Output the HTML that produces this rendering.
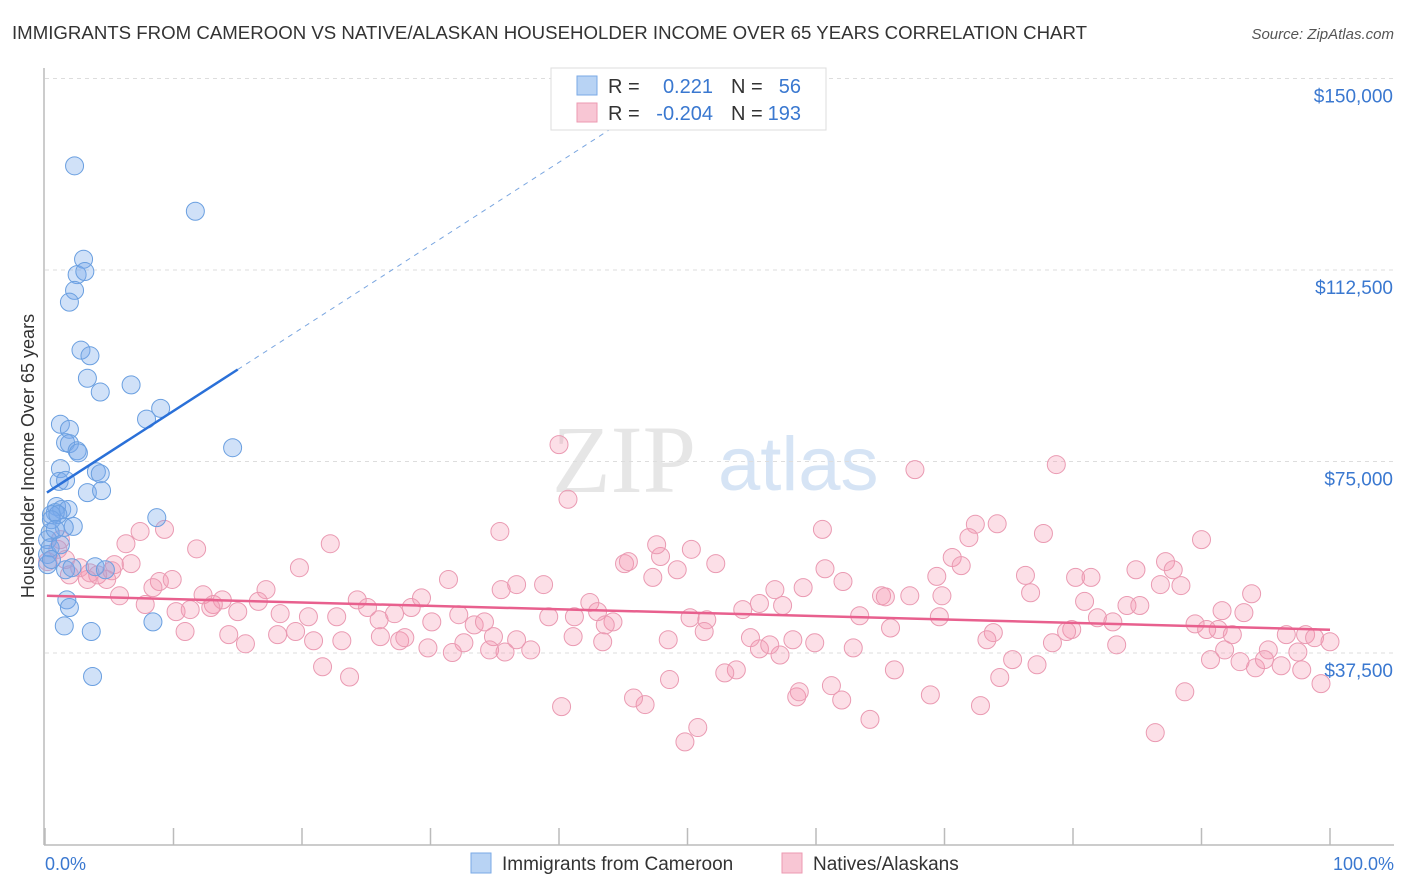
<!DOCTYPE html>
<html><head><meta charset="utf-8">
<style>
body{margin:0;background:#fff;font-family:"Liberation Sans",sans-serif;}
svg{display:block}
</style></head>
<body>
<svg id="chart" width="1406" height="892" xmlns="http://www.w3.org/2000/svg">
<text x="12" y="39" font-size="18" fill="#333" font-family="Liberation Sans, sans-serif" textLength="1075" lengthAdjust="spacingAndGlyphs">IMMIGRANTS FROM CAMEROON VS NATIVE/ALASKAN HOUSEHOLDER INCOME OVER 65 YEARS CORRELATION CHART</text>
<text x="1394" y="39" font-size="15" fill="#555" text-anchor="end" font-style="italic">Source: ZipAtlas.com</text>
<text x="552" y="492" font-size="96" fill="#e6e6e6" font-family="Liberation Serif, serif">ZIP</text>
<text x="718" y="490" font-size="76" fill="#d6e4f5">atlas</text>
<g id="grid"></g>
<g id="axes"></g>
<g id="pts"></g>
<g id="lines"></g>
<text transform="translate(34,456) rotate(-90)" font-size="18" fill="#333" text-anchor="middle">Householder Income Over 65 years</text>
<text x="45" y="870" font-size="18" fill="#3a78d0">0.0%</text>
<text x="1394" y="870" font-size="18" fill="#3a78d0" text-anchor="end">100.0%</text>
<g>
<rect x="551" y="68" width="275" height="62" fill="#fff" stroke="#ddd"/>
<rect x="577" y="76" width="20" height="19" fill="#b8d3f4" stroke="#7aaae6"/>
<rect x="577" y="103" width="20" height="19" fill="#f8c6d4" stroke="#ec9ab2"/>
<text x="608" y="93" font-size="20" fill="#333">R =</text>
<text x="713" y="93" font-size="20" fill="#3a78d0" text-anchor="end">0.221</text>
<text x="731" y="93" font-size="20" fill="#333">N =</text>
<text x="801" y="93" font-size="20" fill="#3a78d0" text-anchor="end">56</text>
<text x="608" y="120" font-size="20" fill="#333">R =</text>
<text x="713" y="120" font-size="20" fill="#3a78d0" text-anchor="end">-0.204</text>
<text x="731" y="120" font-size="20" fill="#333">N =</text>
<text x="801" y="120" font-size="20" fill="#3a78d0" text-anchor="end">193</text>
</g>
<g>
<rect x="471" y="853" width="20" height="20" fill="#b8d3f4" stroke="#7aaae6"/>
<text x="502" y="870" font-size="19" fill="#333">Immigrants from Cameroon</text>
<rect x="782" y="853" width="20" height="20" fill="#f8c6d4" stroke="#ec9ab2"/>
<text x="813" y="870" font-size="19" fill="#333">Natives/Alaskans</text>
</g>
</svg>
<script>
const yTicks=[37500,75000,112500,150000];
const yTickLabels=["$37,500","$75,000","$112,500","$150,000"];
const xTicks=[0,10,20,30,40,50,60,70,80,90,100];
const blueX=[2.3,11.7,3.0,2.5,3.1,2.3,1.9,2.8,3.5,3.3,6.7,4.3,9.0,7.9,1.2,1.9,1.6,1.9,2.5,2.6,14.6,1.2,4.0,4.3,1.1,1.6,3.3,4.4,0.9,1.3,1.8,0.8,0.5,2.2,1.5,8.7,0.4,0.2,0.2,0.4,3.9,4.7,1.7,1.9,1.5,8.4,3.6,3.7,0.2,0.5,1.0,1.2,0.8,1.6,2.1,0.5];
const blueY=[132.9,124.0,114.6,111.6,112.2,108.5,106.2,96.8,95.7,91.3,90.0,88.6,85.4,83.3,82.3,81.3,78.7,78.5,77.1,76.7,77.7,73.6,73.0,72.6,71.1,71.3,68.9,69.3,66.2,65.6,65.6,65.0,64.6,62.3,62.1,64.0,61.1,59.7,56.8,58.1,54.4,53.8,47.9,46.4,42.8,43.6,41.7,32.9,54.8,63.6,64.6,58.7,61.7,53.8,54.2,55.8];
const pinkX=[40.0,40.7,67.7,78.7,35.4,60.5,72.4,74.1,77.7,90.0,7.4,9.3,6.3,11.8,22.2,1.0,1.6,1.2,1.9,3.3,4.1,4.8,5.4,6.7,8.9,9.9,8.4,5.8,7.8,10.2,11.3,12.3,13.1,13.8,12.9,15.0,17.2,16.6,19.8,18.3,20.5,22.7,24.3,25.1,26.0,27.2,28.5,29.3,31.4,30.1,32.2,33.4,34.2,35.5,36.7,38.8,39.2,42.4,43.0,44.2,45.1,45.4,47.3,47.9,49.2,50.3,52.2,47.6,51.5,54.3,55.6,57.4,56.8,59.0,60.7,62.1,65.1,65.4,67.3,69.4,69.8,70.6,71.3,71.9,76.3,76.7,80.2,81.4,80.9,81.9,84.2,85.2,87.2,87.8,84.9,88.4,86.8,93.9,91.6,93.3,91.3,89.5,92.4,96.6,98.1,98.8,100.0,95.2,97.5,94.2,94.9,96.2,97.8,99.3,93.0,90.7,88.7,86.4,83.4,79.9,79.5,78.4,77.2,75.3,73.8,73.3,72.8,68.9,66.1,64.2,62.9,62.0,61.2,58.5,58.7,57.2,58.2,55.6,54.9,53.8,52.9,51.3,50.8,49.8,48.6,46.7,45.8,43.4,41.1,40.2,37.8,36.7,35.8,34.9,34.6,32.6,31.7,29.8,27.6,28.0,26.1,23.1,21.6,23.7,20.9,19.5,18.1,15.6,14.3,10.9,0.2,2.7,3.5,5.2,74.3,69.6,63.4,65.8,59.9,56.4,48.5,41.2,43.6,50.2,83.1,90.4,91.8];
const pinkY=[78.3,67.6,73.4,74.4,61.3,61.7,62.7,62.8,60.9,59.7,61.3,61.7,58.9,57.9,58.9,57.8,55.8,59.7,52.8,51.9,52.8,51.9,54.8,55.0,51.5,51.9,50.3,48.7,47.0,45.6,46.0,48.9,47.0,47.9,46.4,45.6,49.9,47.6,54.2,45.2,44.6,44.6,47.9,46.4,44.0,45.2,46.4,48.3,51.9,43.6,45.0,43.0,43.6,49.9,50.9,50.9,44.6,47.4,45.6,43.6,55.0,55.4,52.3,56.4,53.8,57.8,55.0,58.7,44.0,46.0,47.2,46.8,49.9,50.3,54.0,51.5,48.7,48.5,48.7,52.5,48.7,56.2,54.6,60.1,52.7,49.3,52.3,52.3,47.6,44.4,46.8,46.8,55.4,53.8,53.8,50.7,50.9,49.1,45.8,45.4,42.1,43.2,41.1,41.1,41.1,40.5,39.7,38.1,37.7,34.6,36.2,35.0,34.2,31.5,35.8,36.2,29.9,21.9,39.1,42.1,41.7,39.5,35.2,36.2,41.5,40.1,27.2,29.3,34.2,24.5,38.5,28.3,31.1,28.9,29.9,37.1,40.1,38.3,40.5,34.2,33.6,41.7,22.9,20.1,32.3,27.4,28.7,39.7,40.7,27.0,38.1,40.1,37.7,40.7,38.1,39.5,37.6,38.5,39.9,40.5,40.7,39.9,34.8,32.8,39.9,41.7,41.1,39.3,41.1,41.7,55.4,54.2,53.2,53.6,32.7,44.6,44.8,42.4,39.5,39.1,40.1,44.6,43.0,44.4,43.6,42.1,38.1];
const blueTrend=[68670,1623];   // intercept, slope per %
const pinkTrend=[48730,-66.7];

const NS="http://www.w3.org/2000/svg";
const X=p=>45+p*12.85;
const Y=v=>844.5-v*(191.5/37500);
function mk(tag,attrs,parent){const e=document.createElementNS(NS,tag);for(const k in attrs)e.setAttribute(k,attrs[k]);parent.appendChild(e);return e;}
const grid=document.getElementById('grid'),axes=document.getElementById('axes'),pts=document.getElementById('pts'),lines=document.getElementById('lines');
yTicks.forEach((t,i)=>{
 const l=mk('line',{x1:45,x2:1394,y1:Y(t),y2:Y(t),stroke:'#ddd','stroke-dasharray':'4,4'},grid);
 
 
 const tx=mk('text',{x:1393,y:Y(t)+24,'font-size':19,fill:'#3a78d0','text-anchor':'end'},grid);
 tx.textContent=yTickLabels[i];
 
 
});
const ya=mk('line',{x1:44,x2:44,y1:68,y2:845,stroke:'#bbb','stroke-width':1.5},axes);


const xa=mk('line',{x1:44,x2:1394,y1:845,y2:845,stroke:'#bbb','stroke-width':1.5},axes);


xTicks.forEach(t=>{
 const l=mk('line',{x1:X(t),x2:X(t),y1:828,y2:845,stroke:'#bbb','stroke-width':1.5},axes);
 
 
});
pinkX.forEach((x,i)=>{
 const c=mk('circle',{cx:X(x),cy:Y(pinkY[i]*1000),r:9,fill:'rgba(244,150,176,0.3)',stroke:'#ea9ab2','stroke-width':1},pts);
 
 
});
blueX.forEach((x,i)=>{
 const c=mk('circle',{cx:X(x),cy:Y(blueY[i]*1000),r:9,fill:'rgba(120,170,235,0.35)',stroke:'#6a9fe0','stroke-width':1},pts);
 
 
});
const bf=x=>blueTrend[0]+blueTrend[1]*x, pf=x=>pinkTrend[0]+pinkTrend[1]*x;
const b1=mk('line',{x1:X(0.15),y1:Y(bf(0.15)),x2:X(15),y2:Y(bf(15)),stroke:'#2a70d8','stroke-width':2.5},lines);


const b2=mk('line',{x1:X(15),y1:Y(bf(15)),x2:X(45.5),y2:Y(bf(45.5)),stroke:'#7aa6e0','stroke-width':1,'stroke-dasharray':'5,5'},lines);


const p1=mk('line',{x1:X(0.15),y1:Y(pf(0.15)),x2:X(100),y2:Y(pf(100)),stroke:'#e8608e','stroke-width':2.5},lines);


</script>
</body></html>
